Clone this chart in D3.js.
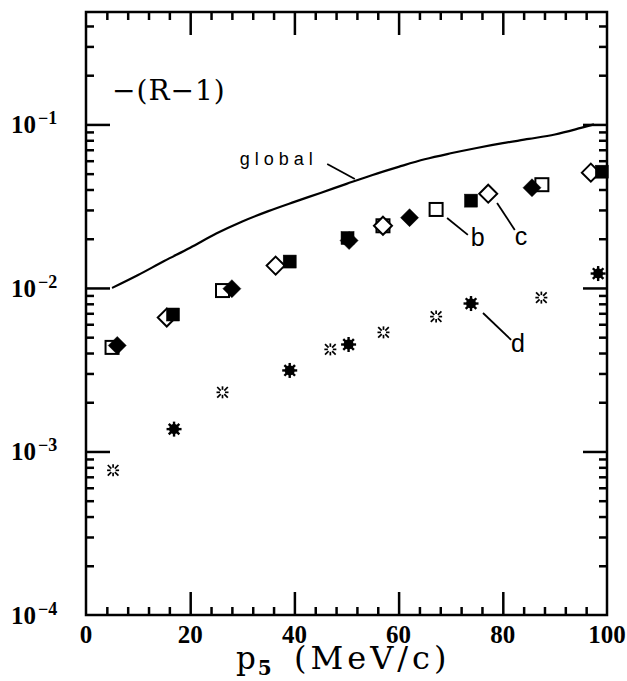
<!DOCTYPE html>
<html>
<head>
<meta charset="utf-8">
<script src="https://cdn.jsdelivr.net/npm/d3@7"></script>
<style>
  body { margin: 0; background: #fff; }
  svg { display: block; }
</style>
</head>
<body>
<div id="chart"></div>
<script>
// data (x in MeV/c, y = -(R-1))
var globalX = [5, 10, 15, 20, 25, 30, 35, 40, 45, 50, 55, 60, 65, 70, 75, 80, 85, 90, 95, 97.5];
var globalY = [0.0100, 0.0120, 0.0146, 0.0176, 0.0215, 0.0255, 0.0295, 0.0336, 0.0381, 0.0433,
               0.0491, 0.0550, 0.0612, 0.0666, 0.0718, 0.0768, 0.0815, 0.0868, 0.0952, 0.1000];

var openSqX = [5, 26.2, 57, 67.2, 87.5];
var openSqY = [0.00433, 0.00964, 0.0240, 0.0302, 0.0428];
var filledSqX = [16.7, 39.1, 50.2, 73.9, 99];
var filledSqY = [0.00688, 0.0145, 0.0202, 0.0342, 0.0514];
var openDiaX = [15.5, 36.4, 57, 77.2, 96.9];
var openDiaY = [0.00659, 0.0137, 0.0240, 0.0377, 0.0507];
var filledDiaX = [6, 28, 50.5, 62.1, 85.6];
var filledDiaY = [0.00445, 0.0099, 0.0195, 0.0269, 0.0410];
var openBurstX = [5.2, 26.2, 46.9, 57.1, 67.2, 87.4];
var openBurstY = [0.000767, 0.00230, 0.00421, 0.00535, 0.00668, 0.00873];
var filledBurstX = [16.9, 39.1, 50.4, 73.9, 98.3];
var filledBurstY = [0.00137, 0.00313, 0.00451, 0.00803, 0.01225];

var xTicks = [0, 20, 40, 60, 80, 100];
var yTicks = [1e-4, 1e-3, 1e-2, 1e-1];
var yTickExp = ["\u22124", "\u22123", "\u22122", "\u22121"];

// curve labels: text position and pointer line, in data units
var labels = [
  {text: "global", tx: 37.0, ty: 0.0565, x1: 46.3, y1: 0.0573, x2: 51.6, y2: 0.0464},
  {text: "b", tx: 75.2, ty: 0.0181, x1: 69.3, y1: 0.0268, x2: 73.3, y2: 0.0211},
  {text: "c", tx: 83.5, ty: 0.0183, x1: 78.9, y1: 0.0331, x2: 82.3, y2: 0.0226},
  {text: "d", tx: 82.9, ty: 0.00406, x1: 76.2, y1: 0.00703, x2: 81.6, y2: 0.00481}
];

var svgWidth = 627;
var svgHeight = 681;
var plotLeft = 86, plotRight = 607, plotTop = 12, plotBottom = 615;

var svg = d3.select("#chart").append("svg")
  .attr("width", svgWidth)
  .attr("height", svgHeight);

var x = d3.scaleLinear().domain([0, 100]).range([plotLeft, plotRight]);
var y = d3.scaleLog().domain([1e-4, 0.487]).range([plotBottom, plotTop]);

function pts(xs, ys) {
  return xs.map(function(v, i) { return [v, ys[i]]; });
}

// minor tick positions
var xMinor = d3.range(4, 100, 4).filter(function(v) { return v % 20 !== 0; });
var yMinor = [];
[1e-4, 1e-3, 1e-2, 1e-1].forEach(function(d) {
  for (var k = 2; k <= 9; k++) if (d * k < 0.487) yMinor.push(d * k);
});

// inward ticks on all four sides, drawn with d3 axes
function addAxis(axisFn, scale, vals, len, tx, ty) {
  var g = svg.append("g")
    .attr("transform", "translate(" + tx + "," + ty + ")")
    .call(axisFn(scale).tickValues(vals).tickSize(len).tickSizeOuter(0).tickFormat(""));
  g.select(".domain").remove();
  g.selectAll(".tick line").attr("stroke", "#000").attr("stroke-width", 2.5);
}
addAxis(d3.axisTop, x, xMinor, 8, 0, plotBottom);
addAxis(d3.axisTop, x, xTicks.slice(1, -1), 23, 0, plotBottom);
addAxis(d3.axisBottom, x, xMinor, 8, 0, plotTop);
addAxis(d3.axisBottom, x, xTicks.slice(1, -1), 23, 0, plotTop);
addAxis(d3.axisRight, y, yMinor, 8, plotLeft, 0);
addAxis(d3.axisRight, y, yTicks.slice(1), 24, plotLeft, 0);
addAxis(d3.axisLeft, y, yMinor, 8, plotRight, 0);
addAxis(d3.axisLeft, y, yTicks.slice(1), 24, plotRight, 0);

svg.append("rect")
  .attr("x", plotLeft).attr("y", plotTop)
  .attr("width", plotRight - plotLeft).attr("height", plotBottom - plotTop)
  .attr("fill", "none").attr("stroke", "#000").attr("stroke-width", 2.5);

// tick labels
svg.selectAll(".xl").data(xTicks).enter().append("text")
  .attr("x", function(d) { return x(d); })
  .attr("y", 643)
  .attr("text-anchor", "middle")
  .attr("font-family", "Liberation Serif")
  .attr("font-weight", "bold")
  .attr("font-size", 25)
  .text(function(d) { return d; });

yTicks.forEach(function(d, i) {
  var t = svg.append("text")
    .attr("x", 11)
    .attr("y", y(d) + 9)
    .attr("font-family", "Liberation Serif")
    .attr("font-weight", "bold")
    .attr("font-size", 25);
  t.append("tspan").text("10");
  t.append("tspan").attr("dx", 2).attr("dy", -9).attr("font-size", 18).text(yTickExp[i]);
});

// axis title
var xt = svg.append("text")
  .attr("x", 236)
  .attr("y", 669)
  .attr("font-family", "DejaVu Serif")
  .attr("font-size", 31);
xt.append("tspan").text("p");
xt.append("tspan").attr("dy", 6).attr("dx", 2).attr("font-size", 20).attr("font-weight", "bold").text("5");

svg.append("text")
  .attr("x", 294)
  .attr("y", 669)
  .attr("font-family", "DejaVu Serif")
  .attr("font-size", 32)
  .attr("letter-spacing", 4)
  .text("(MeV/c)");

svg.append("text")
  .attr("x", 112)
  .attr("y", 100)
  .attr("font-family", "DejaVu Serif")
  .attr("font-size", 28)
  .attr("letter-spacing", 1)
  .text("\u2212(R\u22121)");

// global curve
var line = d3.line()
  .x(function(d) { return x(d[0]); })
  .y(function(d) { return y(d[1]); })
  .curve(d3.curveMonotoneX);
svg.append("path")
  .datum(pts(globalX, globalY))
  .attr("d", line)
  .attr("fill", "none")
  .attr("stroke", "#000")
  .attr("stroke-width", 2.2);

// markers
var sq = 13, dia = 9;

function squares(xs, ys, filled) {
  svg.append("g").selectAll("rect").data(pts(xs, ys)).enter().append("rect")
    .attr("x", function(d) { return x(d[0]) - sq / 2; })
    .attr("y", function(d) { return y(d[1]) - sq / 2; })
    .attr("width", sq).attr("height", sq)
    .attr("fill", filled ? "#000" : "#fff")
    .attr("stroke", "#000")
    .attr("stroke-width", filled ? 0.5 : 2);
}

function diamonds(xs, ys, filled) {
  svg.append("g").selectAll("path").data(pts(xs, ys)).enter().append("path")
    .attr("transform", function(d) { return "translate(" + x(d[0]) + "," + y(d[1]) + ")"; })
    .attr("d", "M0," + (-dia) + "L" + dia + ",0L0," + dia + "L" + (-dia) + ",0Z")
    .attr("fill", filled ? "#000" : "#fff")
    .attr("stroke", "#000")
    .attr("stroke-width", filled ? 0.5 : 2);
}

function bursts(xs, ys, filled) {
  var g = svg.append("g").selectAll("g").data(pts(xs, ys)).enter().append("g")
    .attr("transform", function(d) { return "translate(" + x(d[0]) + "," + y(d[1]) + ")"; });
  d3.range(8).forEach(function(k) {
    var a = k * Math.PI / 4;
    var diag = k % 2 === 1;
    var r0 = filled ? 0 : 2.5;
    var r1 = filled ? 7.5 : (diag ? 7.5 : 6);
    g.append("line")
      .attr("x1", r0 * Math.cos(a)).attr("y1", r0 * Math.sin(a))
      .attr("x2", r1 * Math.cos(a)).attr("y2", r1 * Math.sin(a))
      .attr("stroke", "#000")
      .attr("stroke-width", filled ? 2.4 : 1.7);
  });
  if (filled) g.append("circle").attr("r", 5).attr("fill", "#000");
}

squares(openSqX, openSqY, false);
diamonds(openDiaX, openDiaY, false);
squares(filledSqX, filledSqY, true);
diamonds(filledDiaX, filledDiaY, true);
bursts(openBurstX, openBurstY, false);
bursts(filledBurstX, filledBurstY, true);

// curve labels
labels.forEach(function(d) {
  svg.append("line")
    .attr("x1", x(d.x1)).attr("y1", y(d.y1))
    .attr("x2", x(d.x2)).attr("y2", y(d.y2))
    .attr("stroke", "#000").attr("stroke-width", 1.8);
  svg.append("text")
    .attr("x", x(d.tx))
    .attr("y", y(d.ty))
    .attr("text-anchor", "middle")
    .attr("font-family", "Liberation Sans")
    .attr("font-size", d.text === "global" ? 18 : 25)
    .attr("letter-spacing", d.text === "global" ? 5 : 0)
    .text(d.text);
});
</script>
</body>
</html>
